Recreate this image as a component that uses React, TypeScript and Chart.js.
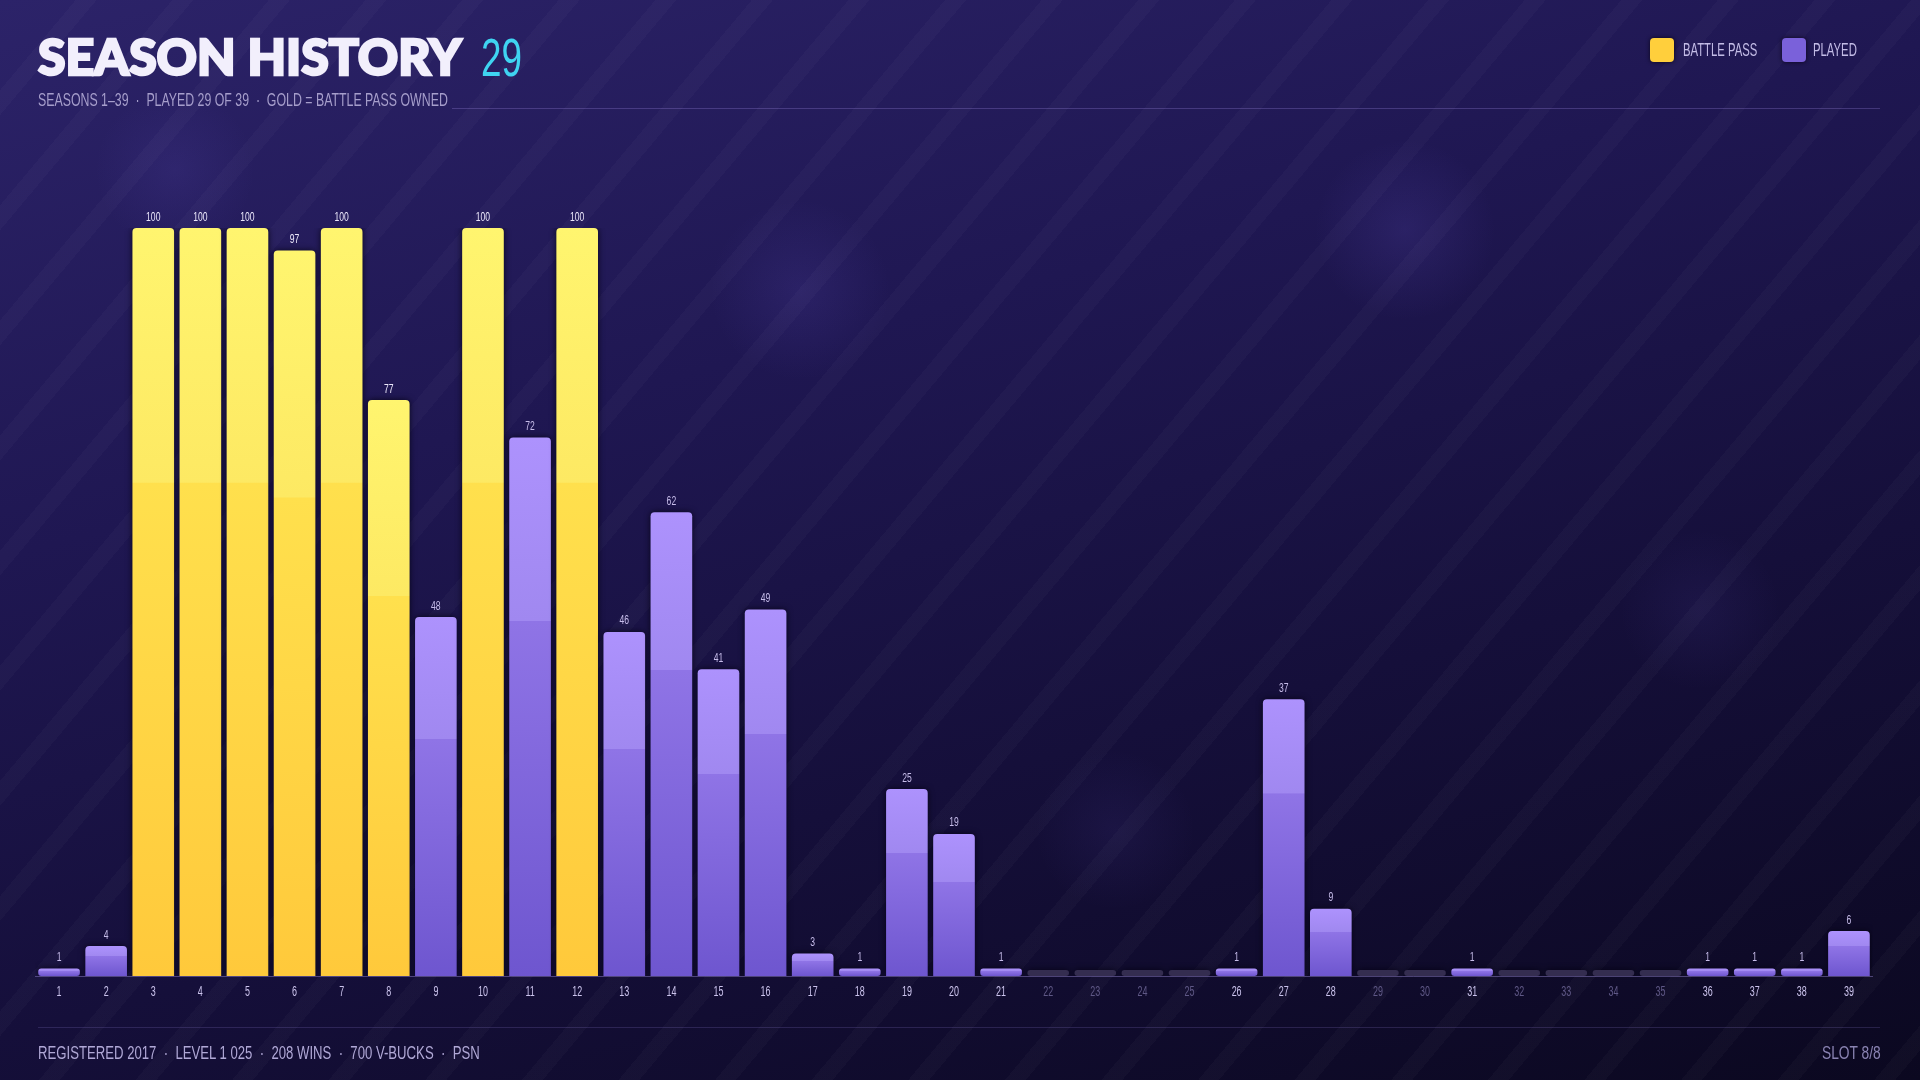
import React, { useEffect, useLayoutEffect, useRef, useState } from "react";
import { Chart, registerables } from "chart.js";

Chart.register(...registerables);

// ---------- DATA ----------
const seasonLabels = [
  "1", "2", "3", "4", "5", "6", "7", "8", "9", "10",
  "11", "12", "13", "14", "15", "16", "17", "18", "19", "20",
  "21", "22", "23", "24", "25", "26", "27", "28", "29", "30",
  "31", "32", "33", "34", "35", "36", "37", "38", "39",
];
const seasonLevels = [
  1, 4, 100, 100, 100, 97, 100, 77, 48, 100,
  72, 100, 46, 62, 41, 49, 3, 1, 25, 19,
  1, 0, 0, 0, 0, 1, 37, 9, 0, 0,
  1, 0, 0, 0, 0, 1, 1, 1, 6,
];
const battlePassOwned = [
  false, false, true, true, true, true, true, true, false, true,
  false, true, false, false, false, false, false, false, false, false,
  false, false, false, false, false, false, false, false, false, false,
  false, false, false, false, false, false, false, false, false,
];
const titleText = "SEASON HISTORY";
const titleCount = "29";
const subtitleText = "SEASONS 1–39  ·  PLAYED 29 OF 39  ·  GOLD = BATTLE PASS OWNED";
const footerText = "REGISTERED 2017  ·  LEVEL 1 025  ·  208 WINS  ·  700 V-BUCKS  ·  PSN";
const slotText = "SLOT 8/8";
const legendItems = ["BATTLE PASS", "PLAYED"];

const SANS = '"Liberation Sans", Arial, sans-serif';

// Text squeezed horizontally to a target width (condensed look)
function FitText(props: {
  text: string;
  left?: number;
  right?: number;
  top: number;
  width: number;
  size: number;
  color: string;
  family?: string;
  weight?: number;
  extra?: React.CSSProperties;
}) {
  const ref = useRef<HTMLSpanElement | null>(null);
  const [scale, setScale] = useState(1);
  useLayoutEffect(() => {
    if (ref.current) {
      const w = ref.current.offsetWidth;
      if (w > 0) setScale(props.width / w);
    }
  }, [props.text, props.width]);
  const anchorRight = props.right !== undefined;
  return (
    <span
      ref={ref}
      style={{
        position: "absolute",
        left: anchorRight ? undefined : props.left,
        right: anchorRight ? props.right : undefined,
        top: props.top,
        fontFamily: props.family || SANS,
        fontWeight: props.weight || 400,
        fontSize: props.size,
        lineHeight: "normal",
        color: props.color,
        whiteSpace: "pre",
        display: "inline-block",
        transform: `scaleX(${scale})`,
        transformOrigin: anchorRight ? "right top" : "left top",
        ...(props.extra || {}),
      }}
    >
      {props.text}
    </span>
  );
}

function narrowText(c: CanvasRenderingContext2D, text: string, x: number, y: number, sx: number) {
  c.save();
  c.translate(x, y);
  c.scale(sx, 1);
  c.fillText(text, 0, 0);
  c.restore();
}

export default function App() {
  const canvasRef = useRef<HTMLCanvasElement | null>(null);

  useEffect(() => {
    const canvas = canvasRef.current;
    if (!canvas) return;

    const barPlugin = {
      id: "barDecor",
      beforeDatasetsDraw(chart: any) {
        const c = chart.ctx;
        c.save();
        c.shadowColor = "rgba(4,2,18,0.9)";
        c.shadowBlur = 6;
      },
      afterDatasetsDraw(chart: any) {
        const c = chart.ctx as CanvasRenderingContext2D;
        c.restore();
        const meta = chart.getDatasetMeta(0);
        c.save();
        c.font = `13px ${SANS}`;
        c.textAlign = "center";
        c.textBaseline = "middle";
        meta.data.forEach((bar: any, i: number) => {
          const v = seasonLevels[i];
          if (v <= 0) return;
          c.fillStyle = battlePassOwned[i] ? "#ece8fb" : "#c6bce9";
          narrowText(c, String(v), bar.x, bar.y - 11, 0.66);
        });
        // x tick labels (from the category scale)
        const xs = chart.scales.x;
        const bottom = chart.chartArea.bottom;
        c.font = `14px ${SANS}`;
        seasonLabels.forEach((lab, i) => {
          const x = xs.getPixelForTick(i);
          c.fillStyle = seasonLevels[i] > 0 ? "#cbc3ec" : "#5f5886";
          narrowText(c, lab, x, bottom + 16, 0.64);
        });
        c.restore();
      },
    };

    const chart = new Chart(canvas, {
      type: "bar",
      data: {
        labels: seasonLabels,
        datasets: [
          {
            label: "Level",
            data: seasonLevels,
            minBarLength: 6,
            categoryPercentage: 0.884,
            barPercentage: 1,
            borderSkipped: false,
            borderRadius: (ctx: any) => {
              const v = seasonLevels[ctx.dataIndex];
              if (v <= 1) return 3;
              return { topLeft: 4, topRight: 4, bottomLeft: 0, bottomRight: 0 };
            },
            backgroundColor: (ctx: any) => {
              const i = ctx.dataIndex;
              const v = seasonLevels[i];
              if (v === 0) return "#342d50";
              const gold = battlePassOwned[i];
              const chartObj = ctx.chart;
              const yScale = chartObj.scales && chartObj.scales.y;
              if (!chartObj.chartArea || !yScale) return gold ? "#ffd84a" : "#8a70e4";
              const top = yScale.getPixelForValue(v);
              const bottom = yScale.getPixelForValue(0);
              if (!isFinite(top) || !isFinite(bottom) || bottom - top < 1) return gold ? "#ffd84a" : "#8a70e4";
              const g = chartObj.ctx.createLinearGradient(0, top, 0, bottom);
              if (gold) {
                g.addColorStop(0, "#fff56f");
                g.addColorStop(0.34, "#fde963");
                g.addColorStop(0.341, "#ffe04d");
                g.addColorStop(1, "#ffc93b");
              } else {
                g.addColorStop(0, "#ad92fd");
                g.addColorStop(0.34, "#a088f0");
                g.addColorStop(0.341, "#8f74e6");
                g.addColorStop(1, "#6e56cf");
              }
              return g;
            },
          },
        ],
      },
      options: {
        animation: false,
        responsive: false,
        maintainAspectRatio: false,
        devicePixelRatio: 1,
        layout: { padding: { left: 35.5, right: 47.5, top: 228, bottom: 104 } },
        plugins: {
          legend: { display: false },
          tooltip: { enabled: false },
        },
        scales: {
          x: {
            display: true,
            grid: { display: false, drawTicks: false },
            border: { display: true, color: "rgba(150,135,210,0.45)", width: 1 },
            ticks: { display: false },
          },
          y: {
            display: false,
            min: 0,
            max: 100,
          },
        },
      },
      plugins: [barPlugin],
    });

    return () => chart.destroy();
  }, []);

  const bg = [
    "repeating-linear-gradient(130deg, rgba(255,255,255,0) 0px, rgba(255,255,255,0) 58px, rgba(255,255,255,0.024) 58px, rgba(255,255,255,0.024) 74px)",
    "radial-gradient(circle at 1405px 230px, rgba(120,100,230,0.14) 0px, rgba(120,100,230,0) 90px)",
    "radial-gradient(circle at 800px 290px, rgba(120,100,230,0.12) 0px, rgba(120,100,230,0) 90px)",
    "radial-gradient(circle at 175px 170px, rgba(120,100,230,0.10) 0px, rgba(120,100,230,0) 80px)",
    "radial-gradient(circle at 1115px 830px, rgba(120,100,230,0.08) 0px, rgba(120,100,230,0) 80px)",
    "radial-gradient(circle at 1700px 610px, rgba(120,100,230,0.08) 0px, rgba(120,100,230,0) 80px)",
    "linear-gradient(165deg, #2c2369 0%, #1f1752 35%, #150f3a 65%, #0b0820 100%)",
  ].join(", ");

  return (
    <div
      style={{
        position: "fixed",
        left: 0,
        top: 0,
        width: 1920,
        height: 1080,
        overflow: "hidden",
        background: bg,
        fontFamily: SANS,
      }}
    >
      <canvas
        ref={canvasRef}
        width={1920}
        height={1080}
        style={{ position: "absolute", left: 0, top: 0, width: 1920, height: 1080 }}
      />

      {/* Title */}
      <FitText
        text={titleText}
        left={38}
        top={26}
        width={424}
        size={50}
        weight={900}
        color="#f2effc"
        family='"Lato", "DejaVu Sans", sans-serif'
        extra={{ lineHeight: "60px", WebkitTextStroke: "2.5px #f2effc" } as any}
      />
      <FitText text={titleCount} left={481} top={27} width={41} size={53} color="#3fd4f1" />

      {/* Subtitle */}
      <FitText text={subtitleText} left={38} top={90} width={410} size={18} color="#a69ecb" />

      {/* Header rule */}
      <div
        style={{
          position: "absolute",
          left: 452,
          top: 108,
          width: 1428,
          height: 1,
          background: "rgba(160,140,230,0.28)",
        }}
      />

      {/* Legend */}
      <span
        style={{
          position: "absolute",
          left: 1650,
          top: 38,
          width: 24,
          height: 24,
          borderRadius: 4,
          background: "#ffcf3c",
          boxShadow: "0 0 4px rgba(10,4,20,0.9)",
        }}
      />
      <FitText text={legendItems[0]} left={1683} top={40} width={74} size={18} color="#c3bce6" />
      <span
        style={{
          position: "absolute",
          left: 1782,
          top: 38,
          width: 24,
          height: 24,
          borderRadius: 4,
          background: "#7a61da",
          boxShadow: "0 0 4px rgba(10,4,20,0.9)",
        }}
      />
      <FitText text={legendItems[1]} left={1813} top={40} width={44} size={18} color="#c3bce6" />

      {/* Footer rule */}
      <div
        style={{
          position: "absolute",
          left: 38,
          top: 1027,
          width: 1842,
          height: 1,
          background: "rgba(150,130,220,0.2)",
        }}
      />

      {/* Footer */}
      <FitText text={footerText} left={38} top={1043} width={442} size={18} color="#b0a8d6" />
      <FitText text={slotText} right={39} top={1043} width={59} size={18} color="#8a83b2" />
    </div>
  );
}
